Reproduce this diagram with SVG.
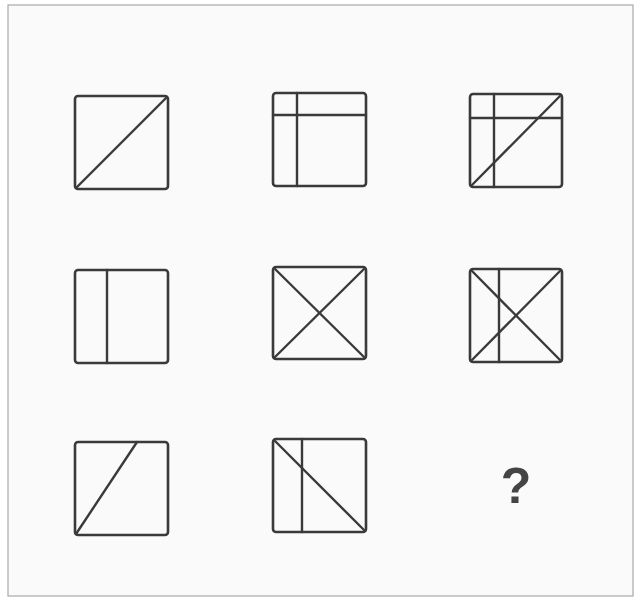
<svg xmlns="http://www.w3.org/2000/svg" width="640" height="600" viewBox="0 0 640 600">
<style>
.b{fill:none;stroke:#3a3a3a;stroke-width:2.6;stroke-linejoin:round}
.l{stroke:#3a3a3a;stroke-width:2.4;stroke-linecap:round}
.q{font-family:"Liberation Sans",Arial,sans-serif;font-weight:bold;font-size:50px;fill:#444;text-anchor:middle}
</style>
<rect width="640" height="600" fill="#fff"/>
<rect x="8" y="5" width="625" height="591" fill="#fafafa" stroke="#a8a8a8" stroke-width="1.2"/>
<g id="n1"><rect class="b" x="75" y="96" width="93" height="93" rx="3"/><line class="l" x1="76" y1="188" x2="167" y2="97"/></g>
<g id="n2"><rect class="b" x="273" y="93" width="93" height="93" rx="3"/><line class="l" x1="297" y1="93" x2="297" y2="186"/><line class="l" x1="273" y1="115" x2="366" y2="115"/></g>
<g id="n3"><rect class="b" x="470" y="94" width="92" height="93" rx="3"/><line class="l" x1="494" y1="94" x2="494" y2="187"/><line class="l" x1="470" y1="118" x2="562" y2="118"/><line class="l" x1="471" y1="186" x2="561" y2="95"/></g>
<g id="n4"><rect class="b" x="75" y="270" width="93" height="93" rx="3"/><line class="l" x1="107" y1="270" x2="107" y2="363"/></g>
<g id="n5"><rect class="b" x="273" y="267" width="93" height="92" rx="3"/><line class="l" x1="274" y1="268" x2="365" y2="358"/><line class="l" x1="274" y1="358" x2="365" y2="268"/></g>
<g id="n6"><rect class="b" x="470" y="269" width="92" height="93" rx="3"/><line class="l" x1="499" y1="269" x2="499" y2="362"/><line class="l" x1="471" y1="270" x2="561" y2="361"/><line class="l" x1="471" y1="361" x2="561" y2="270"/></g>
<g id="n7"><rect class="b" x="75" y="442" width="93" height="93" rx="3"/><line class="l" x1="76" y1="534" x2="137" y2="442"/></g>
<g id="n8"><rect class="b" x="273" y="439" width="93" height="93" rx="3"/><line class="l" x1="302" y1="439" x2="302" y2="532"/><line class="l" x1="274" y1="440" x2="365" y2="531"/></g>
<g id="n9"><text class="q" x="516" y="503">?</text></g>
</svg>
